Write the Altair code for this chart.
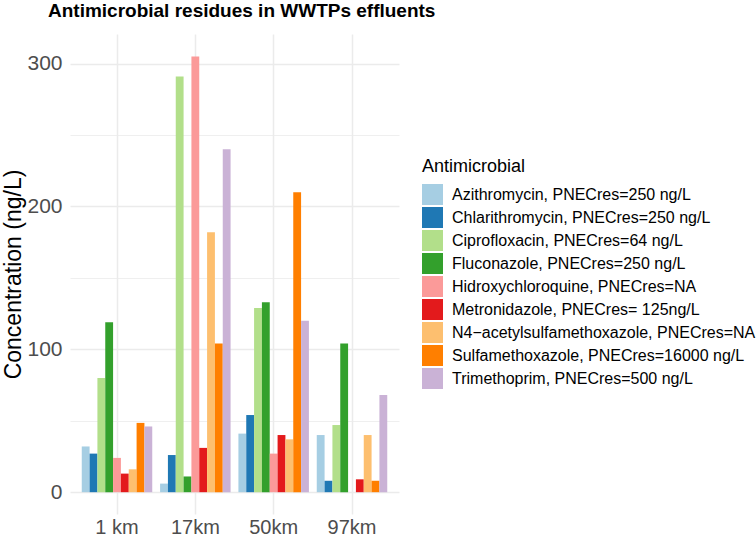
import altair as alt
import pandas as pd

sites = ["1 km", "17km", "50km", "97km"]
drugs = [
    "Azithromycin, PNECres=250 ng/L",
    "Chlarithromycin, PNECres=250 ng/L",
    "Ciprofloxacin, PNECres=64 ng/L",
    "Fluconazole, PNECres=250 ng/L",
    "Hidroxychloroquine, PNECres=NA",
    "Metronidazole, PNECres= 125ng/L",
    "N4\u2212acetylsulfamethoxazole, PNECres=NA",
    "Sulfamethoxazole, PNECres=16000 ng/L",
    "Trimethoprim, PNECres=500 ng/L",
]
colors = ["#A6CEE3", "#1F78B4", "#B2DF8A", "#33A02C", "#FB9A99",
          "#E31A1C", "#FDBF6F", "#FF7F00", "#CAB2D6"]

# concentrations (ng/L) per site, in drug order; None = not measured
v_1km = [32, 27, 80, 119, 24, 13, 16, 48.5, 46]
v_17km = [6, 26, 291, 11, 305, 31, 182, 104, 240]
v_50km = [41, 54, 129, 133, 27, 40, 37, 210, 120]
v_97km = [40, 8, 47, 104, None, 9, 40, 8, 68]

rows = []
for site, vals in zip(sites, [v_1km, v_17km, v_50km, v_97km]):
    for d, v in zip(drugs, vals):
        if v is not None:
            rows.append({"Site": site, "Antimicrobial": d, "Conc": v})
df = pd.DataFrame(rows)

FONT = "Liberation Sans"

chart = alt.Chart(df).mark_bar().encode(
    x=alt.X("Site:N", sort=sites,
            scale=alt.Scale(paddingInner=0.1, paddingOuter=0.15),
            axis=alt.Axis(title=None, labelAngle=0, labelFontSize=20,
                          labelColor="#4D4D4D", labelPadding=3, ticks=False,
                          tickSize=0, domain=False, grid=True, bandPosition=0.5,
                          gridColor="#EBEBEB", gridWidth=1.5, labelFont=FONT)),
    xOffset=alt.XOffset("Antimicrobial:N", sort=drugs,
                        scale=alt.Scale(paddingInner=0, paddingOuter=0)),
    y=alt.Y("Conc:Q",
            scale=alt.Scale(domain=[-15.27, 320.7], nice=False, zero=False),
            axis=alt.Axis(title="Concentration (ng/L)",
                          values=[0, 50, 100, 150, 200, 250, 300],
                          labelExpr="datum.value % 100 === 0 ? datum.label : ''",
                          labelFontSize=21, labelColor="#4D4D4D", labelPadding=8,
                          ticks=False, tickSize=0, domain=False,
                          gridColor="#EBEBEB",
                          gridWidth={"condition": {"test": "datum.value % 100 === 0", "value": 1.5}, "value": 0.8},
                          titleFontSize=23, titleFontWeight="normal", titleColor="black",
                          titleX=-50, titleY=240, titleBaseline="alphabetic",
                          titleFont=FONT, labelFont=FONT)),
    color=alt.Color("Antimicrobial:N",
                    scale=alt.Scale(domain=drugs, range=colors),
                    legend=alt.Legend(orient="none", legendX=352, legendY=124,
                                      title="Antimicrobial", titleFontSize=18,
                                      titleFontWeight="normal", titleColor="black",
                                      titlePadding=8, labelFontSize=16,
                                      labelColor="black", labelOffset=9,
                                      symbolType="square", symbolSize=441,
                                      symbolStrokeWidth=0, symbolOpacity=1,
                                      rowPadding=2, labelLimit=400,
                                      titleFont=FONT, labelFont=FONT)),
).properties(
    width=329,
    height=480,
    title=alt.TitleParams("Antimicrobial residues in WWTPs effluents",
                          anchor="start", frame="group", fontSize=19,
                          fontWeight="bold", font=FONT, color="black",
                          dx=-22, offset=13),
    autosize=alt.AutoSizeParams(type="none"),
    padding={"left": 70, "top": 34, "right": 357, "bottom": 23},
).configure(background="white").configure_view(stroke=None)

chart.save("out.html", embed_options={"renderer": "svg", "actions": False})
